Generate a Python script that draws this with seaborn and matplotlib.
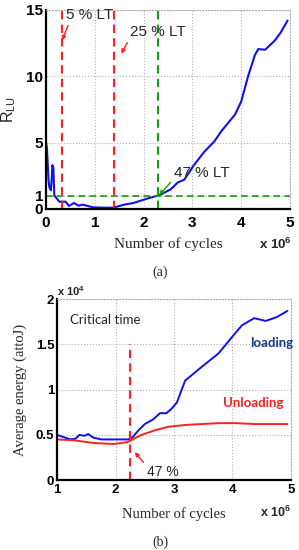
import seaborn as sns
import matplotlib.pyplot as plt
import pandas as pd
import numpy as np

# (a) R_LU vs number of cycles (x 10^6)
rlu_cycles = [0, 0.02, 0.05, 0.07, 0.10, 0.12, 0.13, 0.15, 0.17, 0.22, 0.27, 0.40, 0.47,
              0.57, 0.67, 0.75, 0.97, 1.20, 1.38, 1.60, 1.79, 2.07, 2.28, 2.35, 2.56,
              2.70, 2.83, 3.03, 3.24, 3.45, 3.60, 3.87, 4.00, 4.14, 4.28, 4.35, 4.49,
              4.69, 4.81, 4.95]
rlu_values = [5.0, 4.5, 2.2, 1.6, 1.4, 2.5, 3.3, 3.1, 1.0, 0.8, 0.55, 0.55, 0.23,
              0.45, 0.25, 0.33, 0.12, 0.1, 0.1, 0.33, 0.45, 0.78, 1.0, 1.08, 1.5,
              2.0, 2.2, 3.3, 4.3, 5.1, 5.9, 7.1, 8.1, 10.0, 11.6, 12.05, 12.0,
              12.7, 13.3, 14.2]
lt_lines = [0.33, 1.39]      # 5 % and 25 % LT
crit_line = 2.30             # 47 % LT
rlu_ticks = [0, 1, 5, 10, 15]

# (b) average energy (x 10^4 attoJ)
load_cycles = [1.0, 1.09, 1.23, 1.32, 1.38, 1.47, 1.53, 1.62, 1.76, 1.94, 2.05, 2.22,
               2.30, 2.39, 2.50, 2.64, 2.76, 2.87, 2.96, 3.05, 3.19, 3.47, 3.76, 3.99,
               4.16, 4.37, 4.57, 4.75, 4.94]
load_energy = [0.50, 0.48, 0.45, 0.46, 0.50, 0.49, 0.51, 0.47, 0.45, 0.45, 0.45, 0.45,
               0.48, 0.55, 0.62, 0.67, 0.74, 0.74, 0.79, 0.86, 1.10, 1.25, 1.40, 1.58,
               1.71, 1.79, 1.76, 1.80, 1.87]
unload_cycles = [1.0, 1.29, 1.63, 1.97, 2.20, 2.29, 2.44, 2.67, 2.90, 3.19, 3.47, 3.76,
                 4.05, 4.39, 4.94]
unload_energy = [0.45, 0.44, 0.41, 0.40, 0.42, 0.45, 0.50, 0.55, 0.59, 0.61, 0.62, 0.63,
                 0.63, 0.62, 0.62]
crit_b = 2.25
energy_ticks = [0, 0.5, 1, 1.5, 2]

sns.set_style('white')
plt.rcParams['font.family'] = ['Liberation Sans', 'DejaVu Sans']

fig = plt.figure(figsize=(2.99, 5.5), dpi=100)
ax1 = fig.add_axes([0.154, 0.62, 0.816, 0.362])
ax2 = fig.add_axes([0.191, 0.127, 0.782, 0.329])

grid_kw = dict(color='#b0b0b0', linestyle=':', linewidth=0.8)
dash = (4, 2.5)


def style_axes(ax, size, pad):
    ax.grid(True, **grid_kw)
    for s in ['top', 'right']:
        ax.spines[s].set_color('#b0b0b0')
        ax.spines[s].set_linestyle(':')
        ax.spines[s].set_linewidth(0.8)
    for s in ['left', 'bottom']:
        ax.spines[s].set_color('black')
        ax.spines[s].set_linewidth(1.6)
    ax.tick_params(direction='in', length=3, width=1, colors='black', labelsize=size)
    ax.tick_params(axis='x', pad=pad)
    ax.tick_params(axis='y', pad=2)
    for lab in ax.get_xticklabels() + ax.get_yticklabels():
        lab.set_fontweight('bold')


# ---- (a)
df_a = pd.DataFrame({'cycles': rlu_cycles, 'rlu': rlu_values})
sns.lineplot(data=df_a, x='cycles', y='rlu', color='#1010ee', linewidth=1.5, ax=ax1)
for xv in lt_lines:
    ax1.axvline(xv, color='#ff2020', linestyle='--', dashes=dash, linewidth=1.5)
ax1.axvline(crit_line, color='#10a010', linestyle='--', dashes=dash, linewidth=1.5)
ax1.axhline(1, color='#10a010', linestyle='--', dashes=dash, linewidth=1.2)
ax1.set_xlim(0, 5)
ax1.set_ylim(0, 15)
ax1.set_xticks([0, 1, 2, 3, 4, 5])
ax1.set_yticks(rlu_ticks)
style_axes(ax1, 11, 5)
ax1.set_xlabel('Number of cycles', family='Liberation Serif', fontsize=11, labelpad=5)
ax1.set_ylabel('R$_{\\mathregular{LU}}$', fontsize=11.5, labelpad=6)
ax1.annotate('5 % LT', xy=(0.33, 12.7), xytext=(0.40, 14.6), fontsize=11, va='center',
             arrowprops=dict(arrowstyle='-|>', color='#ff2020', lw=1, mutation_scale=6,
                             shrinkA=0, shrinkB=0, relpos=(0.08, 0)))
ax1.annotate('25 % LT', xy=(1.54, 11.7), xytext=(1.72, 13.3), fontsize=11, va='center',
             arrowprops=dict(arrowstyle='-|>', color='#ff2020', lw=1, mutation_scale=6,
                             shrinkA=0, shrinkB=0, relpos=(0, 0.1)))
ax1.annotate('47 % LT', xy=(2.32, 1.05), xytext=(2.62, 2.7), fontsize=11, va='center',
             arrowprops=dict(arrowstyle='-|>', color='#10a010', lw=1, mutation_scale=6,
                             shrinkA=0, shrinkB=0, relpos=(0, 0.1)))
fig.text(0.865, 1 - 244 / 550, 'x 10$^{\\mathregular{6}}$', fontsize=9.5, fontweight='bold',
         ha='left', va='center')
fig.text(0.535, 1 - 272 / 550, '(a)', family='Liberation Serif', fontsize=10,
         ha='center', va='center')

# ---- (b)
df_load = pd.DataFrame({'cycles': load_cycles, 'energy': load_energy})
df_unload = pd.DataFrame({'cycles': unload_cycles, 'energy': unload_energy})
sns.lineplot(data=df_load, x='cycles', y='energy', color='#1010ee', linewidth=1.4, ax=ax2)
sns.lineplot(data=df_unload, x='cycles', y='energy', color='#ff2020', linewidth=1.4, ax=ax2)
ax2.plot([crit_b, crit_b], [0, 1.5], color='#ff2020', linestyle='--', dashes=dash, linewidth=1.5)
ax2.set_xlim(1, 5)
ax2.set_ylim(0, 2)
ax2.set_xticks([1, 2, 3, 4, 5])
ax2.set_yticks(energy_ticks)
ax2.set_yticklabels(['0', '0.5', '1', '1.5', '2'])
style_axes(ax2, 9.5, 3)
ax2.set_xlabel('Number of cycles', family='Liberation Serif', fontsize=10.5, labelpad=8)
ax2.set_ylabel('Average energy (attoJ)', family='Liberation Serif', fontsize=10.5, labelpad=6)
ax2.text(1.22, 1.77, 'Critical time', family='Lato', fontsize=9.5, va='center')
ax2.text(4.3, 1.52, 'loading', family='Lato', fontsize=9.5, fontweight='bold',
         color='#1a3a8a', va='center')
ax2.text(3.83, 0.85, 'Unloading', family='Lato', fontsize=9.5, fontweight='bold',
         color='#ee2020', va='center')
ax2.annotate('47 %', xy=(2.33, 0.31), xytext=(2.53, 0.09), fontsize=10, va='center',
             arrowprops=dict(arrowstyle='-|>', color='#ff2020', lw=1, mutation_scale=6,
                             shrinkA=0, shrinkB=0, relpos=(0, 0.9)))
fig.text(0.87, 1 - 512 / 550, 'x 10$^{\\mathregular{6}}$', fontsize=9, fontweight='bold',
         ha='left', va='center')
fig.text(0.19, 1 - 291 / 550, 'x 10$^{\\mathregular{4}}$', fontsize=8, fontweight='bold',
         ha='left', va='center')
fig.text(0.535, 1 - 542 / 550, '(b)', family='Liberation Serif', fontsize=10,
         ha='center', va='center')

fig.savefig('out.png', dpi=100)
